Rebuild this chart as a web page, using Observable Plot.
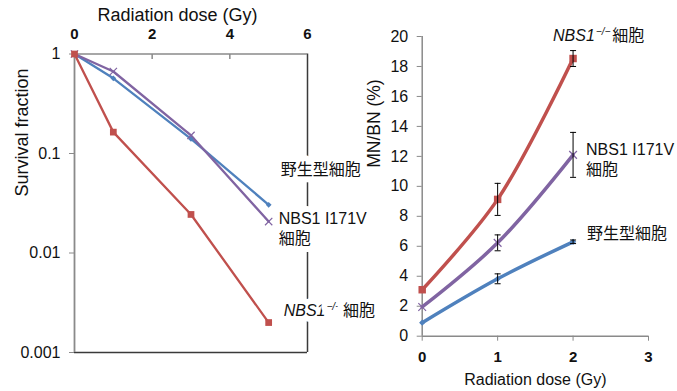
<!DOCTYPE html>
<html>
<head>
<meta charset="utf-8">
<script src="https://cdn.jsdelivr.net/npm/d3@7"></script>
<script src="https://cdn.jsdelivr.net/npm/@observablehq/plot@0.6"></script>
<style>
  html, body { margin: 0; padding: 0; background: white; }
  #wrap { position: relative; width: 677px; height: 391px; }
  #wrap > svg, #wrap > figure { position: absolute; left: 0; top: 0; margin: 0; }
</style>
</head>
<body>
<div id="wrap"></div>
<script>
// ---------- data ----------
const survDoses = [0, 1, 3, 5];
const survWT = [1, 0.57, 0.14, 0.0305];
const survI171V = [1, 0.667, 0.152, 0.0207];
const survKO = [1, 0.164, 0.0244, 0.002];
const survTicks = [1, 0.1, 0.01, 0.001];
const survTickLabels = ["1", "0.1", "0.01", "0.001"];
const survDoseTicks = [0, 2, 4, 6];

const mnDoses = [0, 1, 2];
const mnWT = [0.9, 3.83, 6.3];
const mnWTerr = [0, 0.33, 0.12];
const mnI171V = [1.95, 6.23, 12.1];
const mnI171Verr = [0, 0.53, 1.5];
const mnKO = [3.1, 9.13, 18.53];
const mnKOerr = [0, 1.07, 0.53];
const mnTicks = [0, 2, 4, 6, 8, 10, 12, 14, 16, 18, 20];
const mnDoseTicks = [0, 1, 2, 3];

const labelWT = "野生型細胞";
const labelI171V = "NBS1 I171V\n細胞";
const labelKO = "NBS1-/-細胞";
const titleDose = "Radiation dose (Gy)";
const titleSurv = "Survival fraction";
const titleMN = "MN/BN (%)";

// ---------- styling ----------
const RED = "#c0504d", BLUE = "#4f81bd", PURPLE = "#8064a2";
const AXIS = "#8a8a8a", FRAME = "#3a3a3a";
const FONT = "'Liberation Sans', Arial, 'Noto Sans CJK JP', sans-serif";
const intFmt = d3.format("d");

const survRows = (vals) => survDoses.map((d, i) => ({x: d, y: vals[i]}));
const mnRows = (vals, errs) => mnDoses.map((d, i) => ({x: d, y: vals[i], e: errs[i]}));

const sWT = survRows(survWT), sI = survRows(survI171V), sKO = survRows(survKO);
const mWT = mnRows(mnWT, mnWTerr), mI = mnRows(mnI171V, mnI171Verr), mKO = mnRows(mnKO, mnKOerr);

const capSymbol = {draw(ctx) { ctx.moveTo(-3, 0); ctx.lineTo(3, 0); }};
const downTick = {draw(ctx) { ctx.moveTo(0, 0); ctx.lineTo(0, 5); }};

const last = (arr) => [arr[arr.length - 1]];

// ---------- left panel ----------
const left = Plot.plot({
  width: 677, height: 391,
  marginLeft: 74, marginRight: 370, marginTop: 53.5, marginBottom: 39,
  style: {background: "transparent", overflow: "visible", fontFamily: FONT, color: "#111"},
  x: {domain: [0, 6]},
  y: {type: "log", domain: [0.001, 1]},
  marks: [
    Plot.ruleX([6], {stroke: FRAME, strokeWidth: 1.5}),
    Plot.ruleY([0.001], {stroke: FRAME, strokeWidth: 1.5}),
    Plot.ruleX([0], {stroke: AXIS, strokeWidth: 1.8}),
    Plot.ruleY([1], {stroke: AXIS, strokeWidth: 1.5}),
    Plot.axisY({ticks: survTicks, tickFormat: (d) => survTickLabels[survTicks.indexOf(d)], tickSize: 5, tickPadding: 9, stroke: AXIS, fontSize: 16, label: null}),
    Plot.axisX({anchor: "top", ticks: survDoseTicks, tickFormat: intFmt, tickSize: 0, tickPadding: 15, fontSize: 15, fontWeight: "bold", label: null}),
    Plot.dot([2, 4], {x: (d) => d, y: () => 1, symbol: downTick, stroke: AXIS, r: 3}),
    Plot.text([titleDose], {x: () => 2.65, frameAnchor: "top", dy: -38.5, text: (d) => d, fontSize: 18, textAnchor: "middle", lineAnchor: "middle"}),
    Plot.text([titleSurv], {y: () => 0.1626, frameAnchor: "left", dx: -52, text: (d) => d, fontSize: 18, rotate: -90, textAnchor: "middle", lineAnchor: "middle"}),
    // series
    Plot.line(sWT, {x: "x", y: "y", stroke: BLUE, strokeWidth: 2.3}),
    Plot.line(sI, {x: "x", y: "y", stroke: PURPLE, strokeWidth: 2.3}),
    Plot.line(sKO, {x: "x", y: "y", stroke: RED, strokeWidth: 2.3}),
    Plot.dot(sWT, {x: "x", y: "y", symbol: "diamond2", fill: BLUE, r: 2.6}),
    Plot.dot(sI, {x: "x", y: "y", symbol: "times", stroke: PURPLE, strokeWidth: 1.2, r: 3.4}),
    Plot.dot(sKO, {x: "x", y: "y", symbol: "square", fill: RED, r: 3.8}),
    // labels
    Plot.text(last(sWT), {x: "x", y: "y", text: () => labelWT, dx: 12, dy: -35, textAnchor: "start", lineAnchor: "middle", fontSize: 16, fill: "#111", stroke: "white", strokeWidth: 12, paintOrder: "stroke", strokeLinejoin: "round"}),
    Plot.text(last(sI), {x: "x", y: "y", text: () => labelI171V, dx: 10, dy: 6, textAnchor: "start", lineAnchor: "middle", lineHeight: 1.25, fontSize: 16, fill: "#111", stroke: "white", strokeWidth: 12, paintOrder: "stroke", strokeLinejoin: "round"}),
    Plot.text(last(sKO), {x: "x", y: "y", text: () => labelKO, dx: 15, dy: -12, textAnchor: "start", lineAnchor: "middle", fontSize: 16, fill: "#111", stroke: "white", strokeWidth: 12, paintOrder: "stroke", strokeLinejoin: "round"})
  ]
});

// ---------- right panel ----------
const right = Plot.plot({
  width: 677, height: 391,
  marginLeft: 421.7, marginRight: 29, marginTop: 36, marginBottom: 55.3,
  style: {background: "transparent", overflow: "visible", fontFamily: FONT, color: "#111"},
  x: {domain: [0, 3]},
  y: {domain: [0, 20]},
  marks: [
    Plot.ruleX([0], {stroke: AXIS, strokeWidth: 1.5}),
    Plot.ruleY([0], {stroke: AXIS, strokeWidth: 1.5}),
    Plot.axisY({ticks: mnTicks, tickFormat: intFmt, tickSize: 5, tickPadding: 9, stroke: AXIS, fontSize: 16, label: null}),
    Plot.axisX({ticks: mnDoseTicks, tickFormat: intFmt, tickSize: 5, tickPadding: 10, stroke: AXIS, fontSize: 15, fontWeight: "bold", label: null}),
    Plot.text([titleDose], {frameAnchor: "bottom", dy: 44, text: (d) => d, fontSize: 16, textAnchor: "middle", lineAnchor: "middle"}),
    Plot.text([titleMN], {y: () => 14.19, frameAnchor: "left", dx: -47.7, text: (d) => d, fontSize: 17.5, rotate: -90, textAnchor: "middle", lineAnchor: "middle"}),
    // series
    Plot.line(mWT, {x: "x", y: "y", stroke: BLUE, strokeWidth: 3.5, curve: "catmull-rom"}),
    Plot.line(mI, {x: "x", y: "y", stroke: PURPLE, strokeWidth: 3.5, curve: "catmull-rom"}),
    Plot.line(mKO, {x: "x", y: "y", stroke: RED, strokeWidth: 3.5, curve: "catmull-rom"}),
    Plot.dot(mWT, {x: "x", y: "y", symbol: "diamond2", fill: BLUE, r: 2.8}),
    Plot.dot(mI, {x: "x", y: "y", symbol: "times", stroke: PURPLE, strokeWidth: 1.2, r: 3.6}),
    Plot.dot(mKO, {x: "x", y: "y", symbol: "square", fill: RED, r: 4.2}),
    // error bars
    ...[mWT, mI, mKO].flatMap((rows) => {
      const bars = rows.filter((d) => d.e > 0);
      return [
        Plot.ruleX(bars, {x: "x", y1: (d) => d.y - d.e, y2: (d) => d.y + d.e, stroke: "black", strokeWidth: 1}),
        Plot.dot(bars, {x: "x", y: (d) => d.y + d.e, symbol: capSymbol, stroke: "black", strokeWidth: 1, r: 3}),
        Plot.dot(bars, {x: "x", y: (d) => d.y - d.e, symbol: capSymbol, stroke: "black", strokeWidth: 1, r: 3})
      ];
    }),
    // labels
    Plot.text(last(mKO), {x: "x", y: "y", text: () => labelKO, dx: -20, dy: -23, textAnchor: "start", lineAnchor: "middle", fontSize: 16, fill: "#111"}),
    Plot.text(last(mI), {x: "x", y: "y", text: () => labelI171V, dx: 13, dy: 4, textAnchor: "start", lineAnchor: "middle", lineHeight: 1.25, fontSize: 16, fill: "#111"}),
    Plot.text(last(mWT), {x: "x", y: "y", text: () => labelWT, dx: 14, dy: -8, textAnchor: "start", lineAnchor: "middle", fontSize: 16, fill: "#111"})
  ]
});

// superscript / italic for the NBS1-/- labels
function fixKO(svg) {
  const NS = "http://www.w3.org/2000/svg";
  svg.querySelectorAll("text").forEach((t) => {
    if (t.textContent === labelKO) {
      while (t.firstChild) t.removeChild(t.firstChild);
      const mk = (s, attrs) => {
        const ts = document.createElementNS(NS, "tspan");
        ts.textContent = s;
        for (const k in attrs) ts.setAttribute(k, attrs[k]);
        t.appendChild(ts);
      };
      mk("NBS1", {"font-style": "italic"});
      mk("−/−", {"font-style": "italic", "font-size": "10px", dy: "-6", dx: "1"});
      mk("細胞", {dy: "6", dx: "2"});
    }
  });
}
fixKO(left);
fixKO(right);

const wrap = document.getElementById("wrap");
wrap.appendChild(left);
wrap.appendChild(right);
</script>
</body>
</html>
